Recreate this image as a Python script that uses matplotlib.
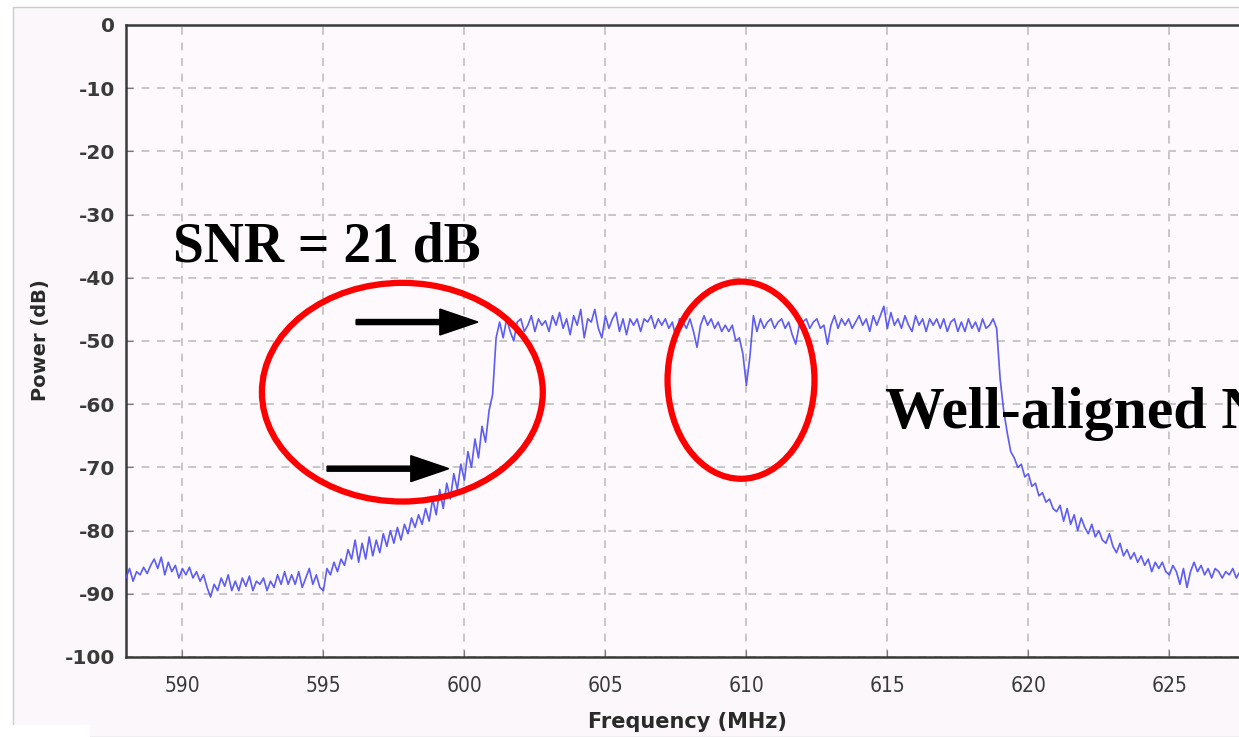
"""Spectrum plot with SNR annotation."""
import numpy as np
import matplotlib
matplotlib.use("Agg")
import matplotlib.pyplot as plt
from matplotlib.patches import Ellipse, Rectangle

plt.rcParams["axes.unicode_minus"] = False

# spectrum bins, 0.125 MHz apart, one row per MHz
f_start, f_step = 588.0, 0.125
power_db = [
    -87.5, -86.0, -88.0, -86.5, -87.0, -85.8, -86.8, -85.5,   # 588
    -84.5, -86.0, -84.2, -87.0, -85.0, -86.5, -85.5, -87.5,   # 589
    -86.0, -87.0, -85.8, -87.5, -86.5, -88.0, -87.0, -89.0,   # 590
    -90.5, -88.5, -89.5, -87.5, -88.8, -87.0, -89.5, -88.0,   # 591
    -89.5, -87.5, -88.8, -87.2, -89.5, -88.0, -88.5, -87.5,   # 592
    -89.5, -88.0, -89.0, -87.0, -88.5, -86.5, -88.5, -87.0,   # 593
    -88.5, -86.5, -89.0, -87.5, -86.0, -88.5, -87.0, -89.0,   # 594
    -89.5, -86.0, -87.0, -85.0, -86.5, -84.5, -85.5, -83.0,   # 595
    -84.5, -81.5, -85.0, -82.0, -84.5, -81.0, -84.0, -81.5,   # 596
    -83.5, -80.5, -82.5, -80.0, -82.0, -79.5, -81.5, -79.0,   # 597
    -80.5, -78.0, -79.5, -77.5, -79.0, -76.5, -78.5, -75.0,   # 598
    -77.5, -73.5, -76.5, -72.5, -75.0, -71.0, -73.5, -69.5,   # 599
    -72.0, -67.5, -70.0, -65.5, -68.5, -63.5, -66.0, -61.0,   # 600
    -58.5, -49.5, -47.0, -49.5, -46.5, -48.5, -50.0, -47.0,   # 601
    -46.5, -48.5, -47.5, -46.0, -48.5, -46.5, -47.5, -46.8,   # 602
    -48.5, -46.0, -47.5, -45.5, -48.0, -46.5, -49.0, -46.0,   # 603
    -47.5, -45.0, -49.5, -46.5, -47.0, -45.0, -48.0, -49.5,   # 604
    -46.0, -48.0, -46.5, -45.5, -48.5, -46.5, -49.0, -46.5,   # 605
    -47.5, -46.5, -48.5, -46.5, -47.0, -46.0, -48.0, -46.5,   # 606
    -47.5, -46.5, -48.0, -47.0, -49.5, -46.5, -47.0, -48.0,   # 607
    -46.5, -48.5, -51.0, -47.5, -46.0, -47.5, -46.5, -48.0,   # 608
    -47.0, -48.5, -47.5, -48.5, -47.5, -50.0, -49.5, -52.0,   # 609
    -57.0, -52.5, -46.0, -48.5, -46.5, -48.0, -47.0, -46.5,   # 610
    -48.0, -47.0, -46.5, -48.0, -47.0, -49.0, -50.5, -47.5,   # 611
    -47.0, -46.5, -48.0, -47.0, -46.5, -48.0, -47.5, -50.5,   # 612
    -47.5, -46.0, -48.0, -46.5, -47.5, -46.5, -48.0, -47.0,   # 613
    -46.0, -47.5, -46.5, -48.5, -46.0, -47.5, -46.0, -44.5,   # 614
    -48.0, -45.5, -47.5, -46.5, -48.0, -46.0, -47.5, -48.5,   # 615
    -46.0, -47.5, -46.5, -48.5, -46.5, -47.5, -46.5, -48.0,   # 616
    -46.5, -48.5, -47.0, -46.5, -48.5, -47.0, -48.5, -46.5,   # 617
    -48.0, -47.0, -48.5, -46.5, -48.0, -47.5, -46.5, -48.0,   # 618
    -56.0, -61.0, -64.5, -67.5, -68.5, -70.0, -69.5, -71.5,   # 619
    -71.0, -73.0, -72.5, -74.5, -74.0, -75.5, -75.0, -76.5,   # 620
    -77.0, -76.0, -78.5, -76.5, -79.0, -77.5, -80.0, -78.0,   # 621
    -79.5, -80.5, -79.0, -81.0, -80.0, -81.5, -82.0, -80.5,   # 622
    -82.5, -83.5, -82.0, -84.0, -83.0, -84.5, -83.5, -85.0,   # 623
    -84.0, -85.5, -84.5, -86.5, -85.0, -86.0, -85.0, -86.5,   # 624
    -87.0, -85.5, -86.5, -88.5, -86.0, -89.0, -86.5, -85.0,   # 625
    -86.5, -85.5, -87.0, -86.0, -87.5, -86.0, -86.5, -87.5,   # 626
    -86.5, -87.0, -86.0, -87.5, -86.5,                        # 627
]
freq = f_start + f_step * np.arange(len(power_db))

x_ticks = [590, 595, 600, 605, 610, 615, 620, 625]
y_ticks = [0, -10, -20, -30, -40, -50, -60, -70, -80, -90, -100]

fig = plt.figure(figsize=(12.39, 7.37), dpi=100, facecolor="white")
fig.add_artist(Rectangle((13 / 1239, 0), 1, 1 - 7 / 737, transform=fig.transFigure,
                         facecolor="#fbf7fb", edgecolor="#cccccc", linewidth=1.0,
                         zorder=-10))
fig.add_artist(Rectangle((0, 0), 90 / 1239, 12 / 737, transform=fig.transFigure,
                         facecolor="white", edgecolor="none", zorder=-9))

ax = fig.add_axes([126 / 1239, 1 - 657 / 737, 1 - 126 / 1239, (657 - 25) / 737])
ax.set_facecolor("#fdf9fd")

ax.plot(freq, power_db, color="#4b4bf2", linewidth=1.2, alpha=0.9, zorder=3)

ax.set_xlim(588.0, 627.47)
ax.set_ylim(-100, 0)
ax.set_xticks(x_ticks)
ax.set_yticks(y_ticks)
ax.grid(True, color="#c9c6c9", linestyle=(0, (4, 4)), linewidth=1.4)
ax.set_axisbelow(True)

for side in ("left", "bottom", "top"):
    ax.spines[side].set_color("#3a3a3a")
    ax.spines[side].set_linewidth(1.8)
ax.spines["right"].set_visible(False)

ax.tick_params(axis="both", direction="in", length=5, color="#777777")
narrow = ["Liberation Sans Narrow", "DejaVu Sans"]
for lab in ax.get_xticklabels():
    lab.set_family(narrow)
    lab.set_fontstretch("condensed")
    lab.set_fontsize(15)
    lab.set_color("#3a3a3a")
for lab in ax.get_yticklabels():
    lab.set_fontsize(14.5)
    lab.set_fontweight("bold")
    lab.set_color("#3a3a3a")
ax.tick_params(axis="x", pad=14)
ax.tick_params(axis="y", pad=8)

ax.set_xlabel("Frequency (MHz)", family=narrow, fontsize=15, fontweight="bold",
              color="#2a2a2a")
ax.set_ylabel("Power (dB)", family=narrow, fontsize=14, fontweight="bold",
              color="#2a2a2a")
ax.xaxis.set_label_coords((687 - 126) / 1113, -(712 - 657) / 632)
ax.yaxis.set_label_coords(-(126 - 50) / 1113, (657 - 340) / 632)

# annotations
serif = ["Liberation Serif", "DejaVu Serif"]
ax.text(589.67, -37.5, "SNR = 21 dB", family=serif, fontsize=40, fontweight="bold",
        va="baseline", ha="left", zorder=6)
ax.text(614.9, -63.8, "Well-aligned N", family=serif, fontsize=43, fontweight="bold",
        va="baseline", ha="left", zorder=6, clip_on=False)

ax.add_patch(Ellipse((597.8, -58.1), 9.96, 34.6, fill=False, edgecolor="#ff0000",
                     linewidth=4.5, zorder=5))
ax.add_patch(Ellipse((609.81, -56.2), 5.21, 31.2, fill=False, edgecolor="#ff0000",
                     linewidth=4.5, zorder=5))

for x0, x1, y in [(596.16, 600.48, -47.0), (595.13, 599.45, -70.2)]:
    ax.arrow(x0, y, x1 - x0, 0, width=0.8, head_width=4.1, head_length=1.35,
             length_includes_head=True, color="black", zorder=6)

plt.savefig("out.png", dpi=100)
plt.close()
